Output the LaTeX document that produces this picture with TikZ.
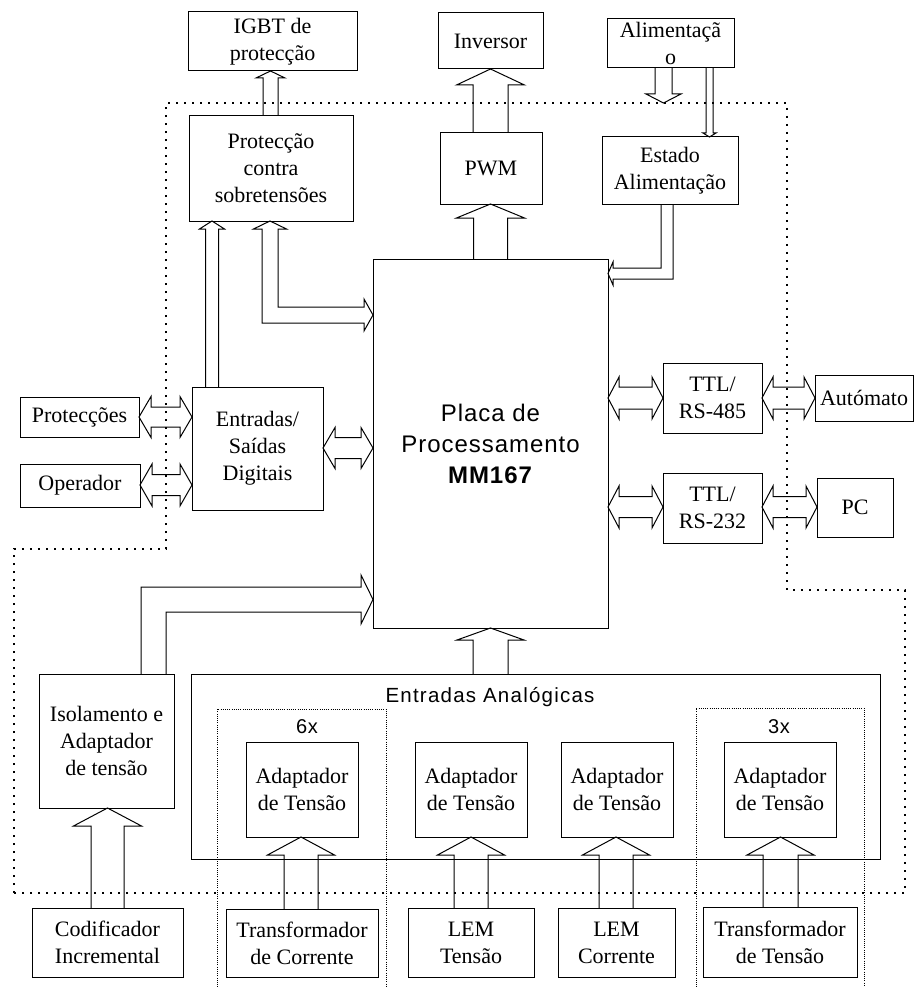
\documentclass[tikz,border=0pt]{standalone}
\usepackage{fontspec}
\setmainfont{Liberation Serif}
\newfontfamily\labsans[LetterSpace=4]{Liberation Sans}
\newfontfamily\titlesans[LetterSpace=6]{Liberation Sans}
\usetikzlibrary{calc}

\tikzset{
  box/.style={draw, line width=1pt, inner sep=0pt, outer sep=0pt, align=center,
              font=\fontsize{22}{27}\selectfont},
  blk/.style={draw, line width=1pt, line join=miter},
  frontier/.style={line width=1.6pt, dash pattern=on 1.6pt off 6.4pt},
  group/.style={line width=0.6pt, dash pattern=on 0.6pt off 1.6pt},
  tag/.style={inner sep=0pt, font=\labsans\fontsize{20}{24}\selectfont},
}

% box from its corners: name, x1, y1, x2, y2, text
\newcommand\mkbox[6]{%
  \node[box, minimum width={#4pt-#2pt}, minimum height={#5pt-#3pt}]
    (#1) at ({(#2+#4)/2},{(#3+#5)/2}) {#6};}

% hollow block arrow pointing up: centre x, tail, tip, shaft half, head half, head length
\newcommand\vup[6]{%
  \draw[blk] let \p1=(#2), \p2=(#3), \p3=(#1,0) in
    ({\x3-#4pt},\y1) -- ({\x3-#4pt},{\y2-#6pt}) -- ({\x3-#5pt},{\y2-#6pt}) -- (\x3,\y2)
    -- ({\x3+#5pt},{\y2-#6pt}) -- ({\x3+#4pt},{\y2-#6pt}) -- ({\x3+#4pt},\y1);}

% hollow block arrow pointing down
\newcommand\vdown[6]{%
  \draw[blk] let \p1=(#2), \p2=(#3), \p3=(#1,0) in
    ({\x3-#4pt},\y1) -- ({\x3-#4pt},{\y2+#6pt}) -- ({\x3-#5pt},{\y2+#6pt}) -- (\x3,\y2)
    -- ({\x3+#5pt},{\y2+#6pt}) -- ({\x3+#4pt},{\y2+#6pt}) -- ({\x3+#4pt},\y1);}

% hollow double-headed horizontal arrow: centre y, left end, right end, shaft half, head half, head length
\newcommand\hboth[6]{%
  \draw[blk] let \p1=(#2), \p2=(#3), \p3=(0,#1) in
    (\x1,\y3) -- ({\x1+#6pt},{\y3+#5pt}) -- ({\x1+#6pt},{\y3+#4pt}) -- ({\x2-#6pt},{\y3+#4pt})
    -- ({\x2-#6pt},{\y3+#5pt}) -- (\x2,\y3) -- ({\x2-#6pt},{\y3-#5pt}) -- ({\x2-#6pt},{\y3-#4pt})
    -- ({\x1+#6pt},{\y3-#4pt}) -- ({\x1+#6pt},{\y3-#5pt}) -- cycle;}

\begin{document}
\begin{tikzpicture}[x=1pt, y=-1pt]
\useasboundingbox (0,0) rectangle (915,987);

% ---------- blocks ----------
\mkbox{igbt}{188}{12}{357}{71}{IGBT de\\protecção}
\mkbox{inv}{438}{13}{543}{69}{Inversor}
\mkbox{alim}{607}{19}{734}{68}{Alimentaçã\\o}
\mkbox{prot}{189}{116}{353}{221}{Protecção\\contra\\sobretensões}
\mkbox{pwm}{440}{133}{542}{204}{PWM}
\mkbox{estado}{602}{137}{738}{204}{Estado\\Alimentação}
\node[draw, line width=1pt, inner sep=0pt, outer sep=0pt, minimum width=235pt, minimum height=369pt,
      align=center, font=\labsans\fontsize{24}{31}\selectfont]
  (mm) at (490.5,443.5) {Placa de\\Processamento\\\textbf{MM167}};
\mkbox{prots}{20}{397}{139}{437}{Protecções}
\mkbox{oper}{20}{464}{140}{507}{Operador}
\mkbox{es}{192}{387}{323}{510}{Entradas/\\Saídas\\Digitais}
\mkbox{rsa}{663}{363}{762}{433}{TTL/\\RS-485}
\mkbox{rsb}{663}{473}{762}{543}{TTL/\\RS-232}
\mkbox{aut}{815}{375}{913}{421}{Autómato}
\mkbox{pc}{817}{478}{893}{537}{PC}
\mkbox{iso}{39}{674}{174}{808}{Isolamento e\\Adaptador\\de tensão}
\mkbox{ea}{191}{674}{880}{859}{}
\mkbox{ada}{246}{742}{358}{837}{Adaptador\\de Tensão}
\mkbox{adb}{415}{742}{527}{837}{Adaptador\\de Tensão}
\mkbox{adc}{561}{742}{673}{837}{Adaptador\\de Tensão}
\mkbox{add}{724}{742}{836}{837}{Adaptador\\de Tensão}
\mkbox{cod}{32}{908}{183}{977}{Codificador\\Incremental}
\mkbox{tc}{226}{909}{378}{977}{Transformador\\de Corrente}
\mkbox{lemt}{408}{908}{534}{977}{LEM\\Tensão}
\mkbox{lemc}{558}{908}{675}{977}{LEM\\Corrente}
\mkbox{tt}{703}{907}{857}{977}{Transformador\\de Tensão}

\node[tag, anchor=base, font=\titlesans\fontsize{20.5}{24}\selectfont] (eatitle) at (490,702) {Entradas Analógicas};
\node[tag, anchor=base] (six) at (307,733) {6x};
\node[tag, anchor=base] (three) at (779,733) {3x};

% ---------- dotted outlines ----------
\draw[frontier] (14,893) -- (14,549) -- (166,549) -- (166,103) -- (787,103)
  -- (787,590) -- (905,590) -- (905,893) -- cycle;
\draw[group] (217,987) -- (217,709) -- (386,709) -- (386,987);
\draw[group] (696,987) -- (696,708) -- (864,708) -- (864,987);
\coordinate (alimin) at (663.5,103);

% ---------- straight block arrows ----------
\vup{270.5}{prot.north}{igbt.south}{7.5}{14.5}{7}
\vup{490.5}{pwm.north}{inv.south}{17.5}{34}{16}
\vup{490.5}{mm.north}{pwm.south}{17}{34}{14}
\vup{212}{es.north}{prot.south}{6.5}{12.5}{8}
\vup{490.5}{ea.north}{mm.south}{17.5}{33.5}{12}
\vup{107.5}{cod.north}{iso.south}{16.5}{34}{18}
\vup{301}{tc.north}{ada.south}{17}{33.5}{18}
\vup{471}{lemt.north}{adb.south}{17}{33.5}{18}
\vup{616}{lemc.north}{adc.south}{17}{33.5}{18}
\vup{780.5}{tt.north}{add.south}{17.5}{33.5}{18}
\vdown{663.5}{alim.south}{alimin}{8.5}{17.5}{9}
\vdown{709.5}{alim.south}{estado.north}{3.5}{6.5}{4}

% ---------- double-headed arrows ----------
\hboth{417}{prots.east}{es.west}{10}{20.5}{12}
\hboth{485}{oper.east}{es.west}{10.5}{21}{12}
\hboth{448}{es.east}{mm.west}{10.5}{20.5}{12}
\hboth{398}{mm.east}{rsa.west}{11}{21}{11}
\hboth{398}{rsa.east}{aut.west}{11}{21}{11}
\hboth{507}{mm.east}{rsb.west}{10.5}{21}{11}
\hboth{507}{rsb.east}{pc.west}{10.5}{21}{11}

% ---------- bent block arrows ----------
% overvoltage protection <-> processing board
\draw[blk] let \p1=(prot.south), \p2=(mm.west), \p3=(270,315) in
  (\x3,\y1) -- ({\x3+16.5pt},{\y1-8pt}) -- ({\x3+8pt},{\y1-8pt}) -- ({\x3+8pt},{\y3+8pt})
  -- ({\x2-9pt},{\y3+8pt}) -- ({\x2-9pt},{\y3+16pt}) -- (\x2,\y3) -- ({\x2-9pt},{\y3-16pt})
  -- ({\x2-9pt},{\y3-8pt}) -- ({\x3-8pt},{\y3-8pt}) -- ({\x3-8pt},{\y1-8pt})
  -- ({\x3-16.5pt},{\y1-8pt}) -- cycle;
% supply state -> processing board
\draw[blk] let \p1=(estado.south), \p2=(mm.east), \p3=(667,273.5) in
  ({\x3-6pt},\y1) -- ({\x3-6pt},{\y3+5.5pt}) -- ({\x2+5pt},{\y3+5.5pt}) -- ({\x2+5pt},{\y3+11.5pt})
  -- (\x2,\y3) -- ({\x2+5pt},{\y3-11.5pt}) -- ({\x2+5pt},{\y3-5.5pt}) -- ({\x3+6pt},{\y3-5.5pt})
  -- ({\x3+6pt},\y1);
% isolation/adapter -> processing board
\draw[blk] let \p1=(iso.north), \p2=(mm.west), \p3=(153.5,599.5) in
  ({\x3-12.5pt},\y1) -- ({\x3-12.5pt},{\y3+12.5pt}) -- ({\x2-12pt},{\y3+12.5pt})
  -- ({\x2-12pt},{\y3+24.5pt}) -- (\x2,\y3) -- ({\x2-12pt},{\y3-24.5pt})
  -- ({\x2-12pt},{\y3-12.5pt}) -- ({\x3+12.5pt},{\y3-12.5pt}) -- ({\x3+12.5pt},\y1);
\end{tikzpicture}
\end{document}
